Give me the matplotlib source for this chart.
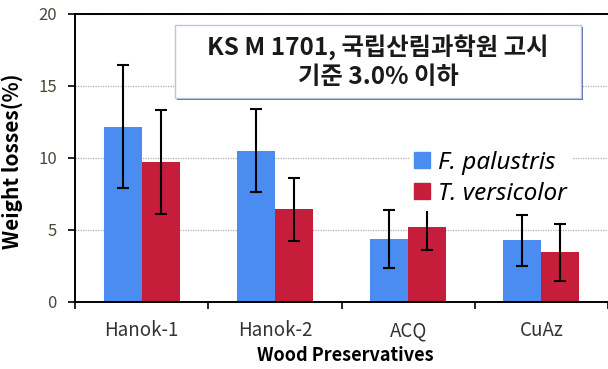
import matplotlib.pyplot as plt
from matplotlib.patches import Patch, Rectangle
import numpy as np

plt.rcParams['font.family'] = ['Noto Sans CJK KR', 'DejaVu Sans']

# mean weight loss and error per preservative
preservatives = ['Hanok-1', 'Hanok-2', 'ACQ', 'CuAz']
fp_loss = [12.15, 10.5, 4.37, 4.27]
fp_err = [4.25, 2.85, 2.0, 1.77]
tv_loss = [9.7, 6.42, 5.22, 3.44]
tv_err = [3.6, 2.17, 1.6, 2.0]
note_lines = ['KS M 1701, 국립산림과학원 고시', '기준 3.0% 이하']

blue = '#4a8cef'
red = '#c61d3b'

W, H = 608, 369
fig = plt.figure(figsize=(W / 100, H / 100), dpi=100)
ax = fig.add_axes([75 / W, 67 / H, 533 / W, 288.5 / H])

x = np.arange(len(preservatives))
w = 0.285
ax.bar(x - w / 2, fp_loss, w, color=blue, zorder=2)
ax.bar(x + w / 2, tv_loss, w, color=red, zorder=2)
ax.errorbar(x - w / 2, fp_loss, yerr=fp_err, fmt='none', ecolor='black',
            elinewidth=1.5, capsize=4, capthick=1.5, zorder=3)
ax.errorbar(x + w / 2, tv_loss, yerr=tv_err, fmt='none', ecolor='black',
            elinewidth=1.5, capsize=4, capthick=1.5, zorder=3)

ax.set_xlim(-0.5, 3.45)
ax.set_ylim(0, 20)
ax.set_yticks([0, 5, 10, 15, 20])
ax.yaxis.grid(True, linestyle=(0, (1, 1)), color='#b0b0b0', linewidth=0.9, zorder=0)

ax.set_xticks(x)
ax.set_xticklabels(preservatives)
ax.set_xticks(np.arange(-0.5, 4, 1), minor=True)
ax.tick_params(axis='x', which='major', length=0, pad=13, labelsize=13.5, labelcolor='#333333')
ax.tick_params(axis='x', which='minor', length=5, width=1.2, direction='out')
ax.tick_params(axis='y', length=5, width=1.2, labelsize=12, labelcolor='#4a4a3a', pad=8)

for s in ['left', 'bottom', 'top']:
    ax.spines[s].set_linewidth(1.4)
ax.spines['right'].set_visible(False)

ax.set_ylabel('Weight losses(%)', fontsize=15, fontweight='bold')
ax.yaxis.set_label_coords(-52 / 533, (302 - 161) / 288.5)
ax.set_xlabel('Wood Preservatives', fontsize=13, fontweight='bold')
ax.xaxis.set_label_coords(270 / 533, -44 / 288.5)

# note box with a drop shadow, in figure pixels
bx0, bx1, by0, by1 = 175, 581, 25, 98
fig.patches.append(Rectangle(((bx0 + 2) / W, 1 - (by1 + 2) / H), (bx1 - bx0) / W, (by1 - by0) / H,
                             transform=fig.transFigure, facecolor='#4f6fa8',
                             edgecolor='none', zorder=4))
fig.patches.append(Rectangle((bx0 / W, 1 - by1 / H), (bx1 - bx0) / W, (by1 - by0) / H,
                             transform=fig.transFigure, facecolor='white',
                             edgecolor='#b8c6de', linewidth=1.0, zorder=4))
for ty, line in zip([47, 77], note_lines):
    fig.text((bx0 + bx1) / 2 / W, 1 - ty / H, line, ha='center', va='center',
             fontsize=17.5, fontweight='bold', color='#1a1a1a', zorder=5)

handles = [Patch(color=blue), Patch(color=red)]
leg = ax.legend(handles, ['F. palustris', 'T. versicolor'], loc='upper left',
                bbox_to_anchor=(322 / 533, 1 - 120 / 288.5),
                prop=dict(family='Noto Sans', style='italic', size=17.5),
                handlelength=0.65, handleheight=0.65, handletextpad=0.35,
                labelspacing=0.3, frameon=True, fancybox=False,
                borderpad=0.2)
leg.get_frame().set_edgecolor('none')
leg.get_frame().set_facecolor('white')
leg.get_frame().set_alpha(1)

fig.savefig('out.png', dpi=100)
